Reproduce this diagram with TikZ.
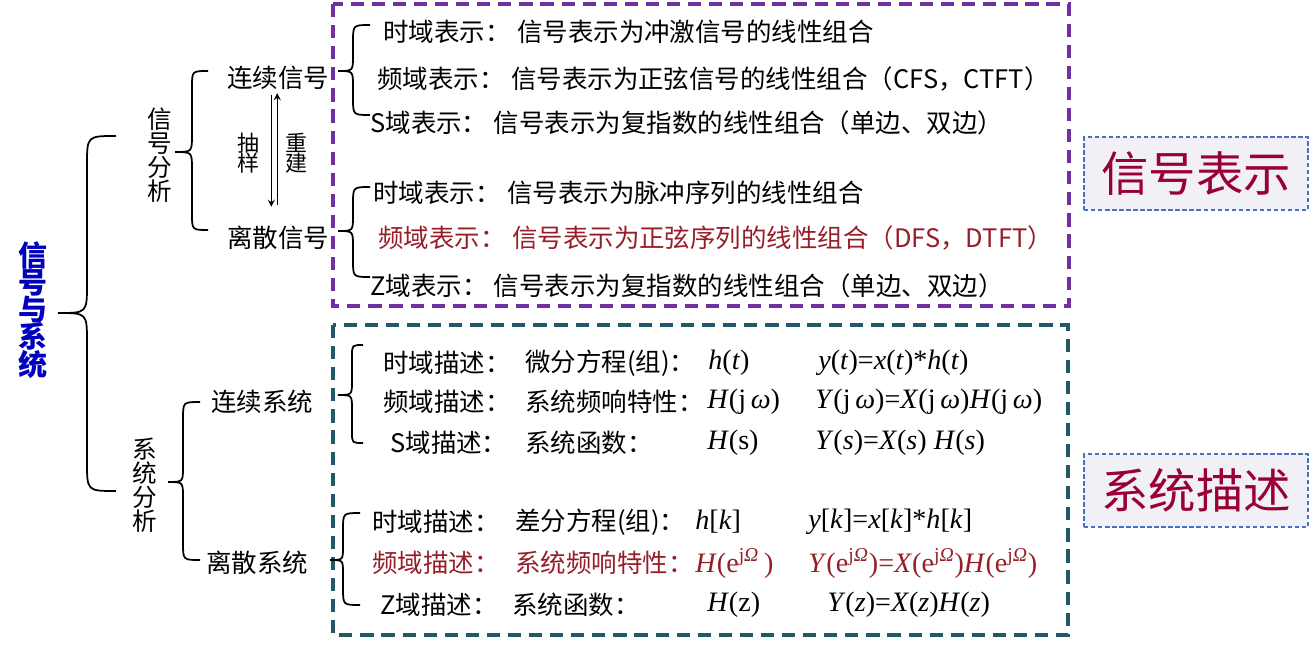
\documentclass[tikz,border=0pt]{standalone}
\usepackage{fontspec}
\setmainfont{Liberation Serif}
\newfontfamily\cjk{Noto Sans CJK SC}
\usetikzlibrary{calc}
\definecolor{BoxPurple}{RGB}{112,48,160}
\definecolor{BoxTeal}{RGB}{33,89,104}
\definecolor{TitleBlue}{RGB}{0,0,190}
\definecolor{RowRed}{RGB}{150,30,40}
\definecolor{TagRed}{RGB}{153,0,51}
\definecolor{TagBlue}{RGB}{68,114,196}
\definecolor{TagFill}{RGB}{242,240,247}

% curly brace: end x, spine x, tip x, top y, tip y, bottom y
\newcommand{\curlybrace}[6]{%
  \draw[line width=1pt] (#1,#4) .. controls (#2,#4) .. (#2,#4+#1-#2) -- (#2,#5-#2+#3)
    .. controls (#2,#5) .. (#3,#5) .. controls (#2,#5) .. (#2,#5+#2-#3)
    -- (#2,#6-#1+#2) .. controls (#2,#6) .. (#1,#6);}
\newcommand{\colgap}{：\hspace{0.25em}}
\newcommand{\tightlines}{\lineskiplimit=-8pt\relax}

\tikzset{
  row/.style={anchor=west,inner sep=0pt,font=\cjk\fontsize{14.5}{16}\selectfont},
  eqn/.style={anchor=west,inner sep=0pt,font=\fontsize{16}{18}\selectfont},
  vert/.style={align=center,inner sep=0pt,font=\cjk\fontsize{14}{13.66}\selectfont\tightlines},
  tag/.style={draw=TagBlue,fill=TagFill,line width=0.8pt,dash pattern=on 2.5pt off 1.5pt,
    minimum width=4.48cm,minimum height=1.46cm,text=TagRed,font=\cjk\fontsize{27}{28}\selectfont}
}

\begin{document}
\begin{tikzpicture}[x=0.02cm,y=-0.02cm]
\useasboundingbox (0,0) rectangle (1316,656);

% dashed frames
\draw[BoxPurple,line width=1.8pt,dash pattern=on 7.5pt off 4.5pt] (333,4) rectangle (1069,306);
\draw[BoxTeal,line width=1.8pt,dash pattern=on 7.5pt off 4.5pt] (333,325) rectangle (1068,635);

% left tree
\node[align=center,inner sep=0pt,text=TitleBlue,font=\cjk\bfseries\fontsize{16.5}{15.4}\selectfont\tightlines] (title) at (33,310) {信\\号\\与\\系\\统};
\node[vert] (sigAna) at (160,155) {信\\号\\分\\析};
\node[vert] (sysAna) at (145,485) {系\\统\\分\\析};
\node[row] (cs) at (227,78) {连续信号};
\node[row] (ds) at (227,238) {离散信号};
\node[row] (csys) at (211,402) {连续系统};
\node[row] (dsys) at (206,563) {离散系统};
\node[vert,font=\cjk\fontsize{12.5}{11.4}\selectfont\tightlines] (samp) at (248,153) {抽\\样};
\node[vert,font=\cjk\fontsize{12.5}{11.4}\selectfont\tightlines] (recon) at (296,153) {重\\建};

\draw[->,>=stealth,line width=0.8pt] ($(cs.south)+(-7,5)$) -- ($(ds.north)+(-7,-19)$);
\draw[->,>=stealth,line width=0.8pt] ($(ds.north)+(-1,-21)$) -- ($(cs.south)+(-1,3)$);

\curlybrace{116}{87}{58}{136}{313}{491}
\curlybrace{208}{192}{175}{71}{152}{230}
\curlybrace{200}{183}{168}{402}{482}{560}
\curlybrace{370}{353}{338}{25}{71}{115}
\curlybrace{370}{353}{338}{187}{231}{277}
\curlybrace{363}{352}{338}{345}{395}{443}
\curlybrace{360}{343}{330}{513}{560}{605}

% signal representation
\node[row] (s1) at (383,32) {时域表示\colgap 信号表示为冲激信号的线性组合};
\node[row] (s2) at (377,79) {频域表示\colgap 信号表示为正弦信号的线性组合（CFS，CTFT）};
\node[row] (s3) at (370,123) {S域表示\colgap 信号表示为复指数的线性组合（单边、双边）};
\node[row] (s4) at (373,193) {时域表示\colgap 信号表示为脉冲序列的线性组合};
\node[row,text=RowRed] (s5) at (378,238) {频域表示\colgap 信号表示为正弦序列的线性组合（DFS，DTFT）};
\node[row] (s6) at (370,286) {Z域表示\colgap 信号表示为复指数的线性组合（单边、双边）};

% continuous system
\node[row] (c1) at (383,363) {时域描述：};
\node[row] (c1b) at (525,363) {微分方程(组)：};
\node[eqn] (c1h) at (708,363) {\textit{h}(\textit{t})};
\node[eqn] (c1y) at (818,363) {\textit{y}(\textit{t})=\textit{x}(\textit{t})*\textit{h}(\textit{t})};
\node[row] (c2) at (383,402) {频域描述：};
\node[row] (c2b) at (525,402) {系统频响特性：};
\node[eqn] (c2h) at (707,402) {\textit{H}(j\,\textit{ω})};
\node[eqn] (c2y) at (815,402) {\textit{Y}(j\,\textit{ω})=\textit{X}(j\,\textit{ω})\textit{H}(j\,\textit{ω})};
\node[row] (c3) at (390,443) {S域描述：};
\node[row] (c3b) at (525,443) {系统函数：};
\node[eqn] (c3h) at (707,443) {\textit{H}(s)};
\node[eqn] (c3y) at (815,443) {\textit{Y}(\textit{s})=\textit{X}(\textit{s}) \textit{H}(\textit{s})};

% discrete system
\node[row] (d1) at (372,522) {时域描述：};
\node[row] (d1b) at (515,522) {差分方程(组)：};
\node[eqn] (d1h) at (695,522) {\textit{h}[\textit{k}]};
\node[eqn] (d1y) at (808,522) {\textit{y}[\textit{k}]=\textit{x}[\textit{k}]*\textit{h}[\textit{k}]};
\node[row,text=RowRed] (d2) at (372,563) {频域描述：};
\node[row,text=RowRed] (d2b) at (515,563) {系统频响特性：};
\node[eqn,text=RowRed] (d2h) at (695,563) {\textit{H}(e\textsuperscript{j\textit{Ω}}\,)};
\node[eqn,text=RowRed] (d2y) at (808,563) {\textit{Y}(e\textsuperscript{j\textit{Ω}})=\textit{X}(e\textsuperscript{j\textit{Ω}})\textit{H}(e\textsuperscript{j\textit{Ω}})};
\node[row] (d3) at (380,605) {Z域描述：};
\node[row] (d3b) at (512,605) {系统函数：};
\node[eqn] (d3h) at (707,605) {\textit{H}(z)};
\node[eqn] (d3y) at (827,605) {\textit{Y}(\textit{z})=\textit{X}(\textit{z})\textit{H}(\textit{z})};

% tags
\node[tag] (tagSig) at (1196,173.5) {信号表示};
\node[tag] (tagSys) at (1196,490.5) {系统描述};
\end{tikzpicture}
\end{document}
